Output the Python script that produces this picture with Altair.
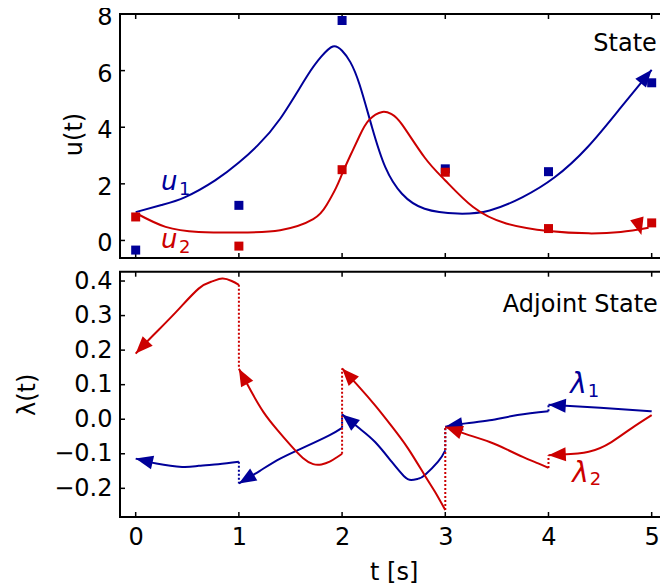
import math
import altair as alt
import pandas as pd

BLUE = "#000099"
RED = "#cc0000"
FONT = "DejaVu Sans"

# ---------------- data ----------------
x_ticks = [0, 1, 2, 3, 4, 5]
u_ticks = [0, 2, 4, 6, 8]
lam_ticks = [-0.2, -0.1, 0.0, 0.1, 0.2, 0.3, 0.4]

t_obs = [0, 1, 2, 3, 4, 5]
u1_obs = [-0.34, 1.24, 7.77, 2.53, 2.43, 5.57]
u2_obs = [0.83, -0.20, 2.50, 2.41, 0.42, 0.62]

u1_t = [0.0, 0.25, 0.48, 0.77, 1.0, 1.18, 1.4, 1.66, 1.80, 1.91, 2.0, 2.08, 2.17,
        2.29, 2.42, 2.58, 2.8, 3.12, 3.43, 3.75, 4.06, 4.38, 4.70, 5.0]
u1_v = [1.0, 1.25, 1.53, 2.12, 2.75, 3.35, 4.3, 5.8, 6.5, 6.85, 6.7, 6.3, 5.5,
        4.0, 2.58, 1.65, 1.12, 0.95, 1.06, 1.53, 2.23, 3.3, 4.69, 6.03]

u2_t = [0.0, 0.29, 0.61, 1.0, 1.4, 1.72, 1.85, 1.94, 2.0, 2.08, 2.17, 2.26, 2.39, 2.48,
        2.58, 2.8, 3.0, 3.27, 3.59, 4.0, 4.39, 4.70, 4.97]
u2_v = [0.97, 0.48, 0.30, 0.28, 0.36, 0.75, 1.25, 1.85, 2.35, 3.0, 3.7, 4.25, 4.54, 4.46,
        4.1, 2.93, 2.12, 1.18, 0.60, 0.33, 0.25, 0.30, 0.45]

# state arrow heads (tip positions)
u_head_t = [5.0, 4.90]
u_head_v = [6.03, 0.19]
u_head_series = ["1", "2"]

# adjoint segments: each listed from its arrow tip (left) to its start (right)
lam1_segments = [
    ([0.0, 0.2, 0.45, 0.61, 0.8, 1.0], [-0.114, -0.128, -0.138, -0.135, -0.130, -0.123]),
    ([1.0, 1.2, 1.4, 1.64, 1.88, 2.0], [-0.186, -0.150, -0.114, -0.080, -0.046, -0.025]),
    ([2.0, 2.17, 2.32, 2.48, 2.6, 2.67, 2.74, 2.8, 2.93, 3.0],
     [0.014, -0.027, -0.066, -0.123, -0.165, -0.176, -0.172, -0.162, -0.123, -0.090]),
    ([3.0, 3.2, 3.43, 3.7, 4.0], [-0.022, -0.012, -0.003, 0.012, 0.023]),
    ([4.0, 4.5, 5.0], [0.042, 0.033, 0.023]),
]
lam2_segments = [
    ([0.0, 0.17, 0.39, 0.61, 0.74, 0.84, 0.93, 1.0], [0.19, 0.243, 0.31, 0.378, 0.399, 0.407, 0.40, 0.389]),
    ([1.0, 1.12, 1.24, 1.37, 1.5, 1.62, 1.72, 1.80, 1.88, 1.95, 2.0],
     [0.146, 0.08, 0.02, -0.03, -0.075, -0.112, -0.130, -0.131, -0.123, -0.110, -0.100]),
    ([2.0, 2.16, 2.32, 2.48, 2.64, 2.8, 2.9, 3.0], [0.147, 0.095, 0.04, -0.02, -0.085, -0.162, -0.21, -0.263]),
    ([3.0, 3.2, 3.43, 3.6, 3.75, 3.9, 4.0], [-0.022, -0.043, -0.066, -0.088, -0.109, -0.128, -0.141]),
    ([4.0, 4.13, 4.39, 4.61, 4.8, 5.0], [-0.104, -0.102, -0.094, -0.066, -0.027, 0.012]),
]

# text annotations
u_lab_main = ["u", "u"]
u_lab_t = [0.245, 0.245]
u_lab_v = [1.765, -0.25]
u_sub = ["1", "2"]
u_sub_t = [0.42, 0.42]
u_sub_v = [1.59, -0.45]
lam_lab_main = ["λ", "λ"]
lam_lab_t = [4.21, 4.23]
lam_lab_v = [0.075, -0.182]
lam_sub = ["1", "2"]
lam_sub_t = [4.38, 4.40]
lam_sub_v = [0.064, -0.191]
series = ["1", "2"]

# ---------------- layout ----------------
XDOM = [-0.152, 5.152]
PX_X = 103.2
W = (XDOM[1] - XDOM[0]) * PX_X
TOP_H = 244.0
GAP = 13.7
BOT_H = 245.3
PLOT_H = TOP_H + GAP + BOT_H
UDOM = [-0.62, 8.0]
LDOM = [-0.283, 0.427]
PX_U = TOP_H / (UDOM[1] - UDOM[0])
PX_L = BOT_H / (LDOM[1] - LDOM[0])
PAD_L = 112
TOTAL_W = 652

ARROW = "M0,0 L0.8,2 L-0.8,2 Z"
HEAD_SIZE = 300
INTERP = "natural"

xs = alt.Scale(domain=XDOM, nice=False, zero=False)
us = alt.Scale(domain=UDOM, range=[TOP_H, 0], nice=False, zero=False)
ls = alt.Scale(domain=LDOM, range=[PLOT_H, TOP_H + GAP], nice=False, zero=False)
cs = alt.Scale(domain=["1", "2"], range=[BLUE, RED])


def heading(t0, v0, t1, v1, py):
    sx = (t0 - t1) * PX_X
    sy = -(v0 - v1) * py
    return math.degrees(math.atan2(sx, -sy)) % 360


# ---- top frames ----
df_u = pd.concat([
    pd.DataFrame({"t": u1_t, "v": u1_v, "s": "1"}),
    pd.DataFrame({"t": u2_t, "v": u2_v, "s": "2"}),
])
df_obs = pd.concat([
    pd.DataFrame({"t": t_obs, "v": u1_obs, "s": "1"}),
    pd.DataFrame({"t": t_obs, "v": u2_obs, "s": "2"}),
])
ang_u = [heading(u1_t[-1], u1_v[-1], u1_t[-3], u1_v[-3], PX_U), 165.0]
df_uhead = pd.DataFrame({"t": u_head_t, "v": u_head_v, "s": u_head_series, "a": ang_u})
df_ulab = pd.DataFrame({"t": u_lab_t, "v": u_lab_v, "txt": u_lab_main, "s": series})
df_usub = pd.DataFrame({"t": u_sub_t, "v": u_sub_v, "txt": u_sub, "s": series})

# ---- bottom frames ----
rows, heads, jumps = [], [], []
for s, segs in (("1", lam1_segments), ("2", lam2_segments)):
    for i, (tt, vv) in enumerate(segs):
        for k, (a, b) in enumerate(zip(tt, vv)):
            rows.append({"t": a, "v": b, "s": s, "seg": f"{s}-{i}", "k": k})
        heads.append({"t": tt[0], "v": vv[0], "s": s,
                      "a": heading(tt[0], vv[0], tt[1], vv[1], PX_L)})
        if i + 1 < len(segs):
            nt, nv = segs[i + 1]
            jumps.append({"t": tt[-1], "v": vv[-1], "v2": nv[0], "s": s})
df_l = pd.DataFrame(rows)
df_lhead = pd.DataFrame(heads)
df_jump = pd.DataFrame(jumps)
df_llab = pd.DataFrame({"t": lam_lab_t, "v": lam_lab_v, "txt": lam_lab_main, "s": series})
df_lsub = pd.DataFrame({"t": lam_sub_t, "v": lam_sub_v, "txt": lam_sub, "s": series})

df_xt = pd.DataFrame({"t": x_ticks})
df_ut = pd.DataFrame({"v": u_ticks})
df_lt = pd.DataFrame({"v": lam_ticks})
df_state = pd.DataFrame({"t": [5.05], "v": [6.68], "txt": ["State"]})
df_adj = pd.DataFrame({"t": [5.06], "v": [0.31], "txt": ["Adjoint State"]})
df_ftop = pd.DataFrame({"t": [XDOM[0]], "t2": [XDOM[1]], "v": [UDOM[0]], "v2": [UDOM[1]]})
df_fbot = pd.DataFrame({"t": [XDOM[0]], "t2": [XDOM[1]], "v": [LDOM[0]], "v2": [LDOM[1]]})


def X(ax=alt.Undefined):
    return alt.X("t:Q", scale=xs, axis=ax)


def YU(ax=None):
    return alt.Y("v:Q", scale=us, axis=ax)


def YL(ax=None):
    return alt.Y("v:Q", scale=ls, axis=ax)


COL = alt.Color("s:N", scale=cs, legend=None)


def xtick_rule(y0, y1):
    return alt.Chart(df_xt).mark_rule(color="black", strokeWidth=1.5).encode(
        x=X(), y=alt.value(y0), y2=alt.value(y1))


def ytick_rule(df, Y):
    return alt.Chart(df).mark_rule(color="black", strokeWidth=1.5).encode(
        y=Y(), x=alt.value(0), x2=alt.value(5))


u_axis = alt.Axis(values=u_ticks, format="d", title="u(t)", orient="left", labelPadding=8,
                  labelOffset=3.5, titleX=-46, titleY=TOP_H / 2 - 2, titleBaseline="middle",
                  titleAngle=270)
lam_axis = alt.Axis(values=lam_ticks, format=".1f", title="λ(t)", orient="left",
                    labelPadding=8, titleX=-93, titleY=TOP_H + GAP + BOT_H / 2,
                    titleBaseline="middle", titleAngle=270)
x_axis = alt.Axis(values=x_ticks, format="d", title="t [s]", labelPadding=8,
                  titleBaseline="alphabetic", titleY=62)

layers = [
    # frames
    alt.Chart(df_ftop).mark_rect(fillOpacity=0, stroke="black", strokeWidth=2).encode(
        x=X(), x2="t2:Q", y=YU(), y2="v2:Q"),
    alt.Chart(df_fbot).mark_rect(fillOpacity=0, stroke="black", strokeWidth=2).encode(
        x=X(), x2="t2:Q", y=YL(), y2="v2:Q"),
    # ticks
    xtick_rule(0, 5), xtick_rule(TOP_H, TOP_H - 5),
    xtick_rule(TOP_H + GAP, TOP_H + GAP + 5), xtick_rule(PLOT_H, PLOT_H - 5),
    ytick_rule(df_ut, YU), ytick_rule(df_lt, YL),
    # top panel
    alt.Chart(df_u).mark_line(strokeWidth=2, interpolate=INTERP).encode(
        x=X(), y=YU(u_axis), color=COL, detail="s:N"),
    alt.Chart(df_obs).mark_point(shape="square", filled=True, size=81, opacity=1).encode(
        x=X(), y=YU(), color=COL),
    alt.Chart(df_uhead).mark_point(shape=ARROW, filled=True, size=HEAD_SIZE, opacity=1,
                                   strokeWidth=0).encode(
        x=X(), y=YU(), color=COL, angle=alt.Angle("a:Q", scale=None)),
    alt.Chart(df_ulab).mark_text(font=FONT, fontSize=26, fontStyle="italic", align="left",
                                 baseline="alphabetic").encode(
        x=X(), y=YU(), text="txt:N", color=COL),
    alt.Chart(df_usub).mark_text(font=FONT, fontSize=18, align="left",
                                 baseline="alphabetic").encode(
        x=X(), y=YU(), text="txt:N", color=COL),
    alt.Chart(df_state).mark_text(font=FONT, fontSize=24, align="right",
                                  baseline="alphabetic", color="black").encode(
        x=X(), y=YU(), text="txt:N"),
    # bottom panel
    alt.Chart(df_l).mark_line(strokeWidth=2, interpolate=INTERP).encode(
        x=X(x_axis), y=YL(lam_axis), color=COL, detail="seg:N", order="k:Q"),
    alt.Chart(df_jump).mark_rule(strokeWidth=2, strokeDash=[2, 2]).encode(
        x=X(), y=YL(), y2="v2:Q", color=COL),
    alt.Chart(df_lhead).mark_point(shape=ARROW, filled=True, size=HEAD_SIZE, opacity=1,
                                   strokeWidth=0).encode(
        x=X(), y=YL(), color=COL, angle=alt.Angle("a:Q", scale=None)),
    alt.Chart(df_llab).mark_text(font=FONT, fontSize=28, fontStyle="italic", align="left",
                                 baseline="alphabetic").encode(
        x=X(), y=YL(), text="txt:N", color=COL),
    alt.Chart(df_lsub).mark_text(font=FONT, fontSize=18, align="left",
                                 baseline="alphabetic").encode(
        x=X(), y=YL(), text="txt:N", color=COL),
    alt.Chart(df_adj).mark_text(font=FONT, fontSize=24, align="right",
                                baseline="alphabetic", color="black").encode(
        x=X(), y=YL(), text="txt:N"),
]

chart = alt.layer(*layers).resolve_scale(y="independent").properties(
    width=W, height=PLOT_H,
    autosize=alt.AutoSizeParams(type="none", contains="content"),
    padding={"left": PAD_L, "top": 6, "right": TOTAL_W - PAD_L - W, "bottom": 70},
).configure_view(strokeWidth=0, stroke="transparent").configure_axis(
    labelFont=FONT, titleFont=FONT, labelFontSize=24, titleFontSize=24,
    titleFontWeight="normal", labelColor="black", titleColor="black",
    grid=False, ticks=False, tickSize=0, domain=False
)

chart.save("out.html", embed_options={"renderer": "svg", "actions": False})
